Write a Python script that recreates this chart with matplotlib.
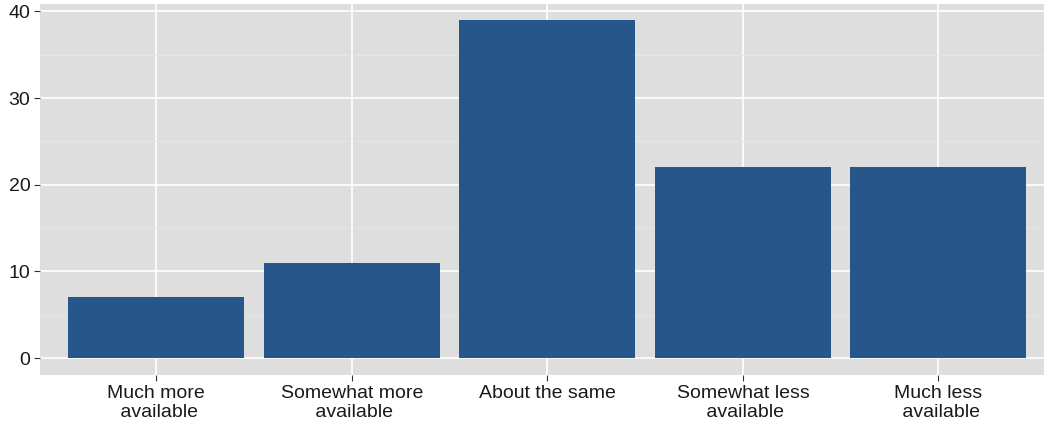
import matplotlib
matplotlib.use("Agg")
import matplotlib.pyplot as plt

categories = ["Much more\n available", "Somewhat more\n available", "About the same",
              "Somewhat less\n available", "Much less\n available"]
values = [7, 11, 39, 22, 22]
yticks = [0, 10, 20, 30, 40]

plt.rcParams['font.family'] = ['Liberation Sans', 'DejaVu Sans']

fig = plt.figure(figsize=(10.44, 4.25), dpi=100)
ax = fig.add_axes([40/1044, 50/425, 1004/1044, 371/425])
ax.set_facecolor('#DEDEDE')

x = list(range(1, len(categories) + 1))
ax.bar(x, values, width=0.9, color='#27568A', zorder=3)

ax.set_xlim(0.405, 5.54)
ax.set_ylim(-1.95, 40.85)
ax.set_xticks(x)
ax.set_xticklabels(categories, fontsize=14, color='#1A1A1A', linespacing=1.2)
ax.set_yticks(yticks)
ax.set_yticklabels([str(v) for v in yticks], fontsize=14, color='#1A1A1A')
ax.set_yticks([5, 15, 25, 35], minor=True)

ax.grid(which='major', color='white', linewidth=1.2, zorder=1)
ax.grid(which='minor', axis='y', color='#E8E8E8', linewidth=0.6, zorder=1)
ax.tick_params(which='major', length=4, color='#333333', width=0.8, pad=3)
ax.tick_params(which='minor', length=0)
for s in ax.spines.values():
    s.set_visible(False)

fig.savefig('out.png', dpi=100)
